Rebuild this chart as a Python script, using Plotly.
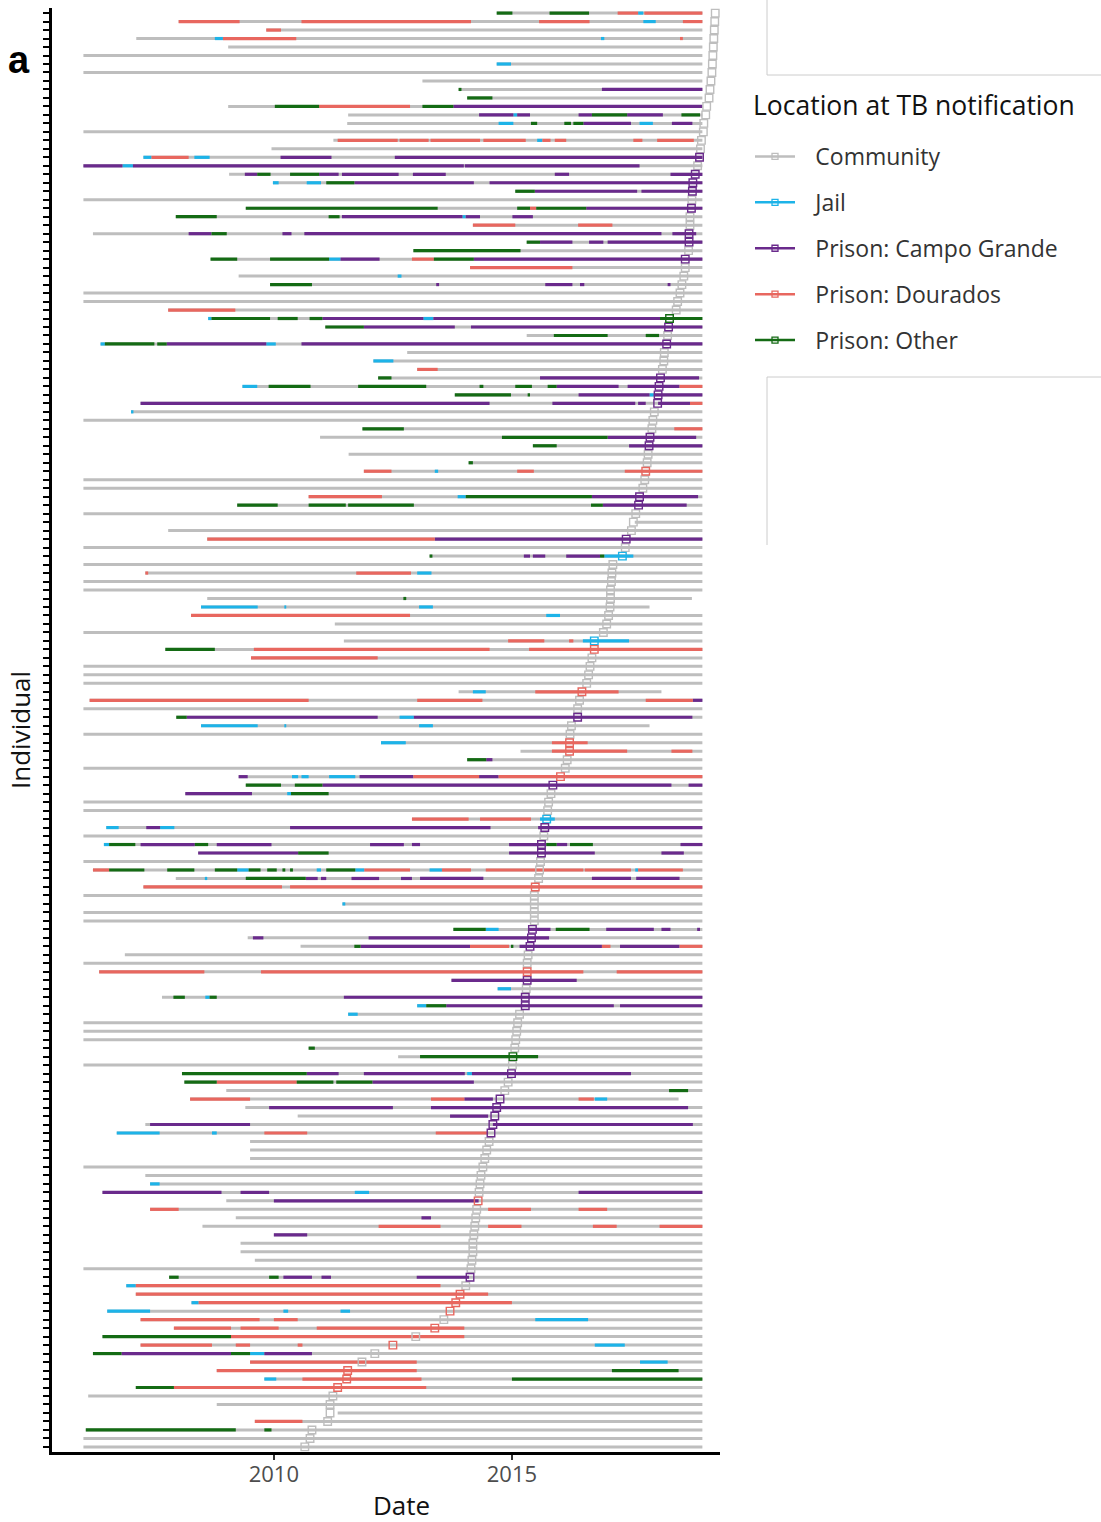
import plotly.graph_objects as go

# Location codes used in the stay records
LOC_NAMES = {
    "C": "Community",
    "J": "Jail",
    "P": "Prison: Campo Grande",
    "D": "Prison: Dourados",
    "O": "Prison: Other",
}
LOC_COLORS = {
    "C": "#BEBEBE",
    "J": "#1DB3E8",
    "P": "#6A2A8C",
    "D": "#E8675F",
    "O": "#146B14",
}
LEGEND_ORDER = ["C", "J", "P", "D", "O"]

# Start of follow-up for each individual (decimal year), top row first
followup_start = [
    2014.68, 2008.00, 2009.84, 2007.11, 2009.04, 2006.00, 2014.68, 2006.00, 2013.12, 2013.88,
    2014.06, 2009.04, 2011.56, 2011.54, 2006.00, 2011.25, 2009.95, 2007.26, 2006.00, 2009.06,
    2009.98, 2015.07, 2006.00, 2009.41, 2007.94, 2014.18, 2006.20, 2015.31, 2012.93, 2008.67,
    2014.12, 2009.26, 2009.92, 2006.00, 2006.00, 2007.78, 2008.62, 2011.08, 2015.31, 2006.36,
    2012.80, 2012.09, 2013.01, 2012.19, 2009.34, 2013.80, 2007.20, 2007.00, 2006.00, 2011.86,
    2010.97, 2015.44, 2011.57, 2014.09, 2011.89, 2006.00, 2006.00, 2010.73, 2009.23, 2006.00,
    2017.58, 2007.78, 2008.60, 2006.00, 2013.27, 2006.00, 2007.30, 2006.00, 2006.00, 2008.60,
    2008.47, 2008.26, 2011.28, 2006.00, 2011.47, 2007.72, 2009.52, 2006.00, 2006.00, 2006.00,
    2013.88, 2006.13, 2006.00, 2007.95, 2008.47, 2006.00, 2012.25, 2015.18, 2014.06, 2006.00,
    2009.26, 2009.41, 2008.14, 2006.00, 2006.00, 2012.90, 2006.48, 2006.00, 2006.43, 2008.41,
    2006.00, 2006.20, 2007.94, 2007.26, 2006.00, 2011.44, 2006.00, 2006.00, 2013.77, 2009.45,
    2010.56, 2006.87, 2006.00, 2006.33, 2013.73, 2014.70, 2007.65, 2013.01, 2011.56, 2006.00,
    2006.00, 2006.00, 2010.73, 2012.61, 2006.00, 2008.07, 2008.12, 2009.00, 2008.24, 2009.40,
    2010.50, 2007.30, 2006.70, 2009.50, 2009.50, 2009.50, 2006.00, 2007.30, 2007.40, 2006.40,
    2009.00, 2007.40, 2009.20, 2008.50, 2010.00, 2009.30, 2009.30, 2009.60, 2006.00, 2007.80,
    2006.90, 2007.10, 2008.27, 2006.50, 2007.20, 2007.90, 2006.40, 2007.20, 2006.20, 2009.50,
    2008.80, 2009.80, 2007.10, 2006.10, 2008.80, 2011.34, 2009.60, 2006.05, 2006.00, 2006.00,
]

# Individuals whose follow-up ends before the end of 2018 (row -> decimal year)
followup_end_early = {70: 2018.78, 71: 2017.89, 81: 2018.14, 85: 2017.89, 129: 2018.50}
STUDY_END = 2019.0

# TB notification date and location at notification, top row first
notif_date = [
    2019.27, 2019.26, 2019.25, 2019.24, 2019.23, 2019.22, 2019.21, 2019.20, 2019.18, 2019.16,
    2019.14, 2019.09, 2019.07, 2019.03, 2019.02, 2018.98, 2018.96, 2018.94, 2018.90, 2018.85,
    2018.80, 2018.79, 2018.78, 2018.77, 2018.74, 2018.74, 2018.72, 2018.72, 2018.71, 2018.64,
    2018.64, 2018.61, 2018.57, 2018.53, 2018.48, 2018.45, 2018.31, 2018.29, 2018.27, 2018.25,
    2018.20, 2018.19, 2018.16, 2018.12, 2018.09, 2018.07, 2018.06, 2017.99, 2017.96, 2017.94,
    2017.90, 2017.88, 2017.86, 2017.84, 2017.81, 2017.79, 2017.75, 2017.68, 2017.66, 2017.60,
    2017.55, 2017.51, 2017.40, 2017.38, 2017.32, 2017.12, 2017.10, 2017.09, 2017.07, 2017.07,
    2017.06, 2017.03, 2016.99, 2016.92, 2016.73, 2016.73, 2016.68, 2016.64, 2016.61, 2016.57,
    2016.47, 2016.42, 2016.38, 2016.38, 2016.25, 2016.22, 2016.21, 2016.21, 2016.16, 2016.12,
    2016.02, 2015.86, 2015.82, 2015.77, 2015.75, 2015.73, 2015.69, 2015.67, 2015.62, 2015.62,
    2015.60, 2015.58, 2015.56, 2015.49, 2015.47, 2015.47, 2015.47, 2015.47, 2015.43, 2015.41,
    2015.38, 2015.34, 2015.32, 2015.32, 2015.32, 2015.30, 2015.28, 2015.28, 2015.16, 2015.12,
    2015.10, 2015.08, 2015.06, 2015.02, 2015.01, 2014.99, 2014.92, 2014.85, 2014.75, 2014.68,
    2014.64, 2014.60, 2014.56, 2014.52, 2014.47, 2014.43, 2014.39, 2014.35, 2014.33, 2014.31,
    2014.29, 2014.26, 2014.24, 2014.22, 2014.20, 2014.18, 2014.18, 2014.16, 2014.14, 2014.12,
    2014.03, 2013.91, 2013.82, 2013.70, 2013.57, 2013.38, 2012.98, 2012.50, 2012.12, 2011.85,
    2011.55, 2011.53, 2011.34, 2011.24, 2011.18, 2011.18, 2011.13, 2010.80, 2010.76, 2010.65,
]
notif_loc = list(
    "CCCCCCCCCCCCCCCCCPCP"
    "PPCPCCPPCPCCCCCCOPCP"
    "CCCPPPPCCCPPCCDCCPPC"
    "CCPCJCCCCCCCCCJDCCCC"
    "DCCPCCDDCCDPCCCJPCPP"
    "CCCDCCCCPPPCCDPCPPCC"
    "CCCOCPCCPPPPPCCCCCCC"
    "DCCCCCCCCPCDDDCDCDCC"
    "DDDCCCCCCC"
)

# Stays outside the community: (row, location code, start, end)
stays = [
    (1, "O", 2014.68, 2015.01), (1, "O", 2015.79, 2016.62), (1, "D", 2017.22, 2017.65),
    (1, "J", 2017.65, 2017.76), (1, "D", 2017.78, 2019.00),
    (2, "D", 2008.00, 2009.28), (2, "D", 2010.58, 2014.14), (2, "D", 2015.57, 2016.63),
    (2, "J", 2017.76, 2018.02), (2, "D", 2018.59, 2019.00),
    (3, "D", 2009.84, 2010.15),
    (4, "J", 2008.76, 2008.93), (4, "D", 2008.93, 2010.47), (4, "J", 2016.87, 2016.94),
    (4, "D", 2018.53, 2018.59),
    (7, "J", 2014.68, 2014.98),
    (10, "O", 2013.88, 2013.94), (10, "P", 2016.89, 2019.00),
    (11, "O", 2014.06, 2014.59),
    (12, "O", 2010.02, 2010.95), (12, "D", 2010.95, 2012.86), (12, "O", 2013.12, 2013.77),
    (12, "P", 2013.77, 2019.00),
    (13, "P", 2014.31, 2015.03), (13, "J", 2015.03, 2015.11), (13, "P", 2015.11, 2015.38),
    (13, "P", 2016.40, 2016.68), (13, "O", 2016.68, 2017.42), (13, "P", 2017.42, 2018.17),
    (13, "O", 2018.56, 2018.95),
    (14, "J", 2014.72, 2015.03), (14, "O", 2015.40, 2015.53), (14, "O", 2016.10, 2016.24),
    (14, "O", 2016.29, 2016.50), (14, "P", 2016.50, 2017.50), (14, "J", 2017.68, 2017.96),
    (14, "P", 2018.36, 2018.79),
    (16, "D", 2011.34, 2012.60), (16, "D", 2012.64, 2013.25), (16, "D", 2013.29, 2014.33),
    (16, "D", 2014.40, 2015.29), (16, "J", 2015.53, 2015.64), (16, "D", 2015.64, 2015.81),
    (16, "D", 2015.90, 2016.14), (16, "D", 2017.55, 2017.74), (16, "D", 2018.05, 2018.82),
    (18, "J", 2007.26, 2007.43), (18, "D", 2007.43, 2008.21), (18, "J", 2008.33, 2008.65),
    (18, "P", 2010.14, 2011.21), (18, "P", 2012.54, 2019.00),
    (19, "P", 2006.00, 2006.82), (19, "J", 2006.82, 2007.04), (19, "P", 2007.04, 2013.99),
    (19, "P", 2014.01, 2017.68),
    (20, "P", 2009.39, 2009.65), (20, "O", 2009.65, 2009.93), (20, "O", 2010.34, 2010.95),
    (20, "P", 2010.95, 2011.36), (20, "P", 2011.43, 2012.62), (20, "P", 2012.92, 2013.61),
    (20, "P", 2015.90, 2016.20), (20, "P", 2018.33, 2019.00),
    (21, "J", 2009.98, 2010.10), (21, "J", 2010.69, 2010.99), (21, "O", 2011.10, 2011.69),
    (21, "P", 2011.69, 2014.20), (21, "P", 2014.53, 2019.00),
    (22, "O", 2015.07, 2015.48), (22, "P", 2015.48, 2017.63), (22, "P", 2017.72, 2019.00),
    (24, "O", 2009.41, 2013.44), (24, "O", 2015.11, 2015.38), (24, "D", 2015.38, 2015.51),
    (24, "O", 2015.51, 2016.56), (24, "P", 2016.56, 2019.00),
    (25, "O", 2007.94, 2008.80), (25, "O", 2011.15, 2011.38), (25, "P", 2011.43, 2013.96),
    (25, "J", 2013.96, 2014.03), (25, "P", 2014.03, 2014.33), (25, "P", 2015.01, 2015.44),
    (26, "D", 2014.18, 2015.07), (26, "D", 2016.39, 2017.11),
    (27, "P", 2008.21, 2008.69), (27, "O", 2008.69, 2009.01), (27, "P", 2010.18, 2010.37),
    (27, "P", 2010.64, 2018.14), (27, "P", 2018.37, 2018.87),
    (28, "O", 2015.31, 2015.59), (28, "P", 2015.59, 2016.27), (28, "P", 2016.62, 2016.92),
    (28, "P", 2017.01, 2019.00),
    (29, "O", 2012.93, 2015.18),
    (30, "O", 2008.67, 2009.23), (30, "O", 2009.92, 2011.16), (30, "J", 2011.16, 2011.40),
    (30, "P", 2011.40, 2012.22), (30, "D", 2012.90, 2013.36), (30, "O", 2013.36, 2014.20),
    (30, "P", 2014.20, 2019.00),
    (31, "D", 2014.12, 2016.27),
    (32, "J", 2012.60, 2012.68),
    (33, "O", 2009.92, 2010.80), (33, "P", 2013.41, 2013.47), (33, "P", 2015.70, 2016.27),
    (33, "P", 2016.43, 2016.52), (33, "P", 2018.27, 2018.33),
    (36, "D", 2007.78, 2009.19),
    (37, "J", 2008.62, 2008.69), (37, "O", 2008.69, 2009.92), (37, "O", 2010.08, 2010.50),
    (37, "O", 2010.75, 2011.02), (37, "P", 2011.02, 2013.14), (37, "J", 2013.14, 2013.35),
    (37, "P", 2013.35, 2018.11), (37, "O", 2018.11, 2019.00),
    (38, "O", 2011.08, 2011.89), (38, "P", 2011.89, 2013.80), (38, "P", 2014.14, 2019.00),
    (39, "O", 2015.88, 2017.01), (39, "O", 2017.81, 2018.09),
    (40, "J", 2006.36, 2006.45), (40, "O", 2006.45, 2007.49), (40, "O", 2007.55, 2007.75),
    (40, "P", 2007.75, 2009.84), (40, "J", 2009.84, 2010.04), (40, "P", 2010.58, 2019.00),
    (42, "J", 2012.09, 2012.51),
    (43, "D", 2013.01, 2013.44),
    (44, "O", 2012.19, 2012.47), (44, "P", 2015.59, 2018.93),
    (45, "J", 2009.34, 2009.65), (45, "O", 2009.89, 2010.77), (45, "O", 2011.77, 2013.20),
    (45, "O", 2014.32, 2014.40), (45, "O", 2015.07, 2015.42), (45, "O", 2015.75, 2015.94),
    (45, "P", 2015.94, 2017.24), (45, "P", 2017.43, 2018.52), (45, "D", 2018.52, 2019.00),
    (46, "O", 2013.80, 2014.98), (46, "O", 2015.33, 2015.38), (46, "P", 2016.40, 2017.89),
    (46, "J", 2017.89, 2017.98), (46, "P", 2017.98, 2019.00),
    (47, "P", 2007.20, 2014.53), (47, "P", 2015.85, 2017.59), (47, "P", 2017.65, 2017.81),
    (47, "P", 2018.07, 2018.74), (47, "D", 2018.74, 2019.00),
    (48, "J", 2007.00, 2007.05),
    (50, "O", 2011.86, 2012.73), (50, "D", 2018.41, 2019.00),
    (51, "O", 2014.79, 2017.01), (51, "P", 2017.01, 2018.87),
    (52, "O", 2015.44, 2015.94), (52, "P", 2017.46, 2019.00),
    (54, "O", 2014.09, 2014.18),
    (55, "D", 2011.89, 2012.47), (55, "J", 2013.38, 2013.45), (55, "D", 2015.11, 2015.46),
    (55, "D", 2017.37, 2019.00),
    (58, "D", 2010.73, 2012.27), (58, "J", 2013.86, 2014.03), (58, "O", 2014.03, 2016.68),
    (58, "P", 2016.68, 2018.91),
    (59, "O", 2009.23, 2010.08), (59, "O", 2010.73, 2011.51), (59, "O", 2011.56, 2012.94),
    (59, "O", 2016.66, 2016.91), (59, "P", 2016.91, 2018.67),
    (63, "D", 2008.60, 2013.38), (63, "P", 2013.38, 2019.00),
    (65, "O", 2013.27, 2013.33), (65, "P", 2015.25, 2015.38), (65, "P", 2015.44, 2015.70),
    (65, "P", 2016.14, 2016.85), (65, "O", 2016.85, 2016.94), (65, "J", 2016.94, 2017.55),
    (67, "D", 2007.30, 2007.36), (67, "D", 2011.73, 2012.88), (67, "J", 2013.01, 2013.31),
    (70, "O", 2012.72, 2012.78),
    (71, "J", 2008.47, 2009.66), (71, "J", 2010.22, 2010.26), (71, "J", 2013.05, 2013.34),
    (72, "D", 2008.26, 2012.86), (72, "J", 2015.72, 2016.01),
    (75, "D", 2014.92, 2015.68), (75, "D", 2016.20, 2016.29), (75, "J", 2016.49, 2017.46),
    (76, "O", 2007.72, 2008.76), (76, "D", 2009.58, 2014.53), (76, "D", 2015.36, 2019.00),
    (77, "D", 2009.52, 2012.18),
    (81, "J", 2014.18, 2014.45), (81, "D", 2015.49, 2017.24),
    (82, "D", 2006.13, 2010.73), (82, "D", 2013.01, 2014.38), (82, "D", 2017.81, 2018.80),
    (82, "P", 2018.80, 2019.00),
    (84, "O", 2007.95, 2008.17), (84, "P", 2008.17, 2012.18), (84, "J", 2012.64, 2012.94),
    (84, "P", 2012.94, 2018.79),
    (85, "J", 2008.47, 2009.66), (85, "J", 2010.22, 2010.26), (85, "J", 2013.05, 2013.34),
    (87, "J", 2012.25, 2012.77), (87, "D", 2015.84, 2016.59),
    (88, "D", 2015.84, 2017.42), (88, "D", 2018.35, 2018.79),
    (89, "O", 2014.06, 2014.46), (89, "P", 2014.46, 2014.59),
    (91, "P", 2009.26, 2009.45), (91, "J", 2010.38, 2010.51), (91, "J", 2010.58, 2010.73),
    (91, "J", 2011.16, 2011.71), (91, "P", 2011.80, 2012.93), (91, "D", 2012.93, 2014.31),
    (91, "P", 2014.31, 2014.72), (91, "D", 2014.72, 2019.00),
    (92, "O", 2009.41, 2010.15), (92, "O", 2010.44, 2011.02), (92, "P", 2011.02, 2018.35),
    (92, "P", 2018.71, 2019.00),
    (93, "P", 2008.14, 2009.54), (93, "J", 2010.28, 2010.36), (93, "O", 2010.36, 2011.15),
    (96, "D", 2012.90, 2014.09), (96, "D", 2014.33, 2015.40), (96, "J", 2015.59, 2015.90),
    (97, "J", 2006.48, 2006.74), (97, "P", 2007.32, 2007.61), (97, "J", 2007.61, 2007.91),
    (97, "P", 2010.34, 2014.55), (97, "P", 2015.55, 2019.00),
    (99, "J", 2006.43, 2006.54), (99, "O", 2006.54, 2007.09), (99, "P", 2007.20, 2008.34),
    (99, "O", 2008.34, 2008.62), (99, "P", 2008.80, 2009.95), (99, "P", 2012.02, 2012.73),
    (99, "P", 2012.90, 2013.07), (99, "P", 2014.94, 2015.72), (99, "O", 2015.72, 2015.94),
    (99, "P", 2015.94, 2016.16), (99, "O", 2016.22, 2016.70), (99, "P", 2018.54, 2019.00),
    (100, "P", 2008.41, 2010.51), (100, "O", 2010.51, 2011.15), (100, "P", 2014.94, 2016.74),
    (100, "P", 2018.14, 2018.61),
    (102, "D", 2006.20, 2006.54), (102, "O", 2006.54, 2007.28), (102, "O", 2007.76, 2008.33),
    (102, "O", 2008.76, 2009.23), (102, "J", 2009.23, 2009.47), (102, "O", 2009.47, 2009.72),
    (102, "O", 2009.86, 2010.06), (102, "O", 2010.18, 2010.24), (102, "O", 2010.34, 2010.40),
    (102, "J", 2010.90, 2010.99), (102, "O", 2011.10, 2011.71), (102, "J", 2011.71, 2011.90),
    (102, "D", 2011.90, 2012.86), (102, "J", 2013.27, 2013.53), (102, "D", 2013.53, 2014.14),
    (102, "D", 2014.45, 2016.50), (102, "D", 2016.53, 2017.50), (102, "J", 2017.59, 2017.65),
    (102, "D", 2017.65, 2018.59),
    (103, "J", 2008.55, 2008.60), (103, "O", 2009.41, 2010.67), (103, "P", 2010.67, 2010.92),
    (103, "P", 2010.99, 2011.10), (103, "P", 2011.63, 2012.21), (103, "P", 2012.67, 2012.90),
    (103, "P", 2013.07, 2014.40), (103, "P", 2016.68, 2017.50), (103, "P", 2017.61, 2018.52),
    (104, "D", 2007.26, 2010.17), (104, "D", 2010.34, 2019.00),
    (106, "J", 2011.44, 2011.50),
    (109, "O", 2013.77, 2014.45), (109, "J", 2014.45, 2014.72), (109, "P", 2015.36, 2015.81),
    (109, "O", 2015.92, 2016.63), (109, "P", 2016.98, 2017.98), (109, "P", 2018.14, 2018.33),
    (109, "P", 2018.89, 2018.95),
    (110, "P", 2009.56, 2009.78), (110, "P", 2011.99, 2015.78),
    (111, "O", 2011.69, 2011.82), (111, "P", 2011.82, 2014.12), (111, "D", 2014.12, 2014.94),
    (111, "O", 2014.98, 2015.03), (111, "P", 2015.16, 2016.89), (111, "D", 2016.89, 2017.07),
    (111, "P", 2017.27, 2018.52), (111, "D", 2018.52, 2019.00),
    (114, "D", 2006.33, 2008.54), (114, "D", 2009.73, 2016.50), (114, "D", 2017.20, 2019.00),
    (115, "P", 2013.73, 2016.36),
    (116, "J", 2014.70, 2014.98),
    (117, "O", 2007.89, 2008.13), (117, "J", 2008.56, 2008.65), (117, "O", 2008.65, 2008.80),
    (117, "P", 2011.47, 2019.00),
    (118, "J", 2013.01, 2013.20), (118, "O", 2013.20, 2013.62), (118, "P", 2013.62, 2017.14),
    (118, "P", 2017.27, 2019.00),
    (119, "J", 2011.56, 2011.76),
    (123, "O", 2010.73, 2010.86),
    (124, "O", 2013.07, 2015.55),
    (126, "O", 2008.07, 2010.69), (126, "P", 2010.69, 2011.36), (126, "P", 2011.89, 2014.01),
    (126, "J", 2014.06, 2014.16), (126, "P", 2014.16, 2017.50),
    (127, "O", 2008.12, 2008.80), (127, "D", 2008.80, 2010.48), (127, "O", 2010.48, 2011.25),
    (127, "O", 2011.31, 2012.07), (127, "P", 2012.07, 2014.20),
    (128, "O", 2018.30, 2018.70),
    (129, "D", 2008.24, 2009.50), (129, "D", 2013.30, 2014.00), (129, "P", 2014.00, 2014.60),
    (129, "D", 2016.40, 2016.72), (129, "J", 2016.74, 2017.00),
    (130, "P", 2009.90, 2012.50), (130, "P", 2013.30, 2018.70),
    (131, "P", 2013.70, 2014.50),
    (132, "P", 2007.40, 2009.50), (132, "P", 2014.60, 2018.80),
    (133, "J", 2006.70, 2007.60), (133, "J", 2008.70, 2008.80), (133, "D", 2009.80, 2010.70),
    (133, "D", 2013.40, 2014.50),
    (139, "J", 2007.40, 2007.60),
    (140, "P", 2006.40, 2008.90), (140, "P", 2009.30, 2009.90), (140, "J", 2011.70, 2012.00),
    (140, "P", 2016.40, 2019.00),
    (141, "P", 2010.00, 2014.30),
    (142, "D", 2007.40, 2008.00), (142, "D", 2014.50, 2015.40), (142, "D", 2016.40, 2017.00),
    (143, "P", 2013.10, 2013.30),
    (144, "D", 2012.20, 2013.50), (144, "D", 2014.50, 2015.20), (144, "D", 2016.70, 2017.20),
    (144, "D", 2018.10, 2019.00),
    (145, "P", 2010.00, 2010.70),
    (150, "O", 2007.80, 2008.00), (150, "O", 2009.90, 2010.10), (150, "P", 2010.20, 2010.80),
    (150, "P", 2011.00, 2011.20), (150, "P", 2013.00, 2014.10),
    (151, "J", 2006.90, 2007.10), (151, "D", 2007.10, 2013.50),
    (152, "D", 2007.10, 2014.50),
    (153, "J", 2008.27, 2008.42), (153, "D", 2008.42, 2015.00),
    (154, "J", 2006.50, 2007.40), (154, "J", 2010.20, 2010.30), (154, "J", 2011.40, 2011.60),
    (155, "D", 2007.20, 2009.70), (155, "D", 2010.00, 2010.50), (155, "J", 2015.49, 2016.60),
    (156, "D", 2007.90, 2009.10), (156, "D", 2009.30, 2010.10), (156, "D", 2010.90, 2014.00),
    (157, "O", 2006.40, 2009.10), (157, "D", 2009.10, 2014.00),
    (158, "D", 2007.20, 2008.70), (158, "D", 2009.20, 2009.50), (158, "D", 2010.50, 2010.60),
    (158, "J", 2016.74, 2017.37),
    (159, "O", 2006.20, 2006.80), (159, "P", 2006.80, 2009.10), (159, "O", 2009.10, 2009.50),
    (159, "J", 2009.50, 2009.80), (159, "P", 2009.80, 2010.80),
    (160, "D", 2009.50, 2013.00), (160, "J", 2017.69, 2018.27),
    (161, "D", 2008.80, 2013.00), (161, "O", 2017.10, 2018.50),
    (162, "J", 2009.80, 2010.05), (162, "D", 2010.60, 2013.10), (162, "O", 2015.00, 2019.00),
    (163, "O", 2007.10, 2007.90), (163, "D", 2007.90, 2013.20),
    (167, "D", 2009.60, 2010.60),
    (168, "O", 2006.05, 2009.20), (168, "O", 2009.80, 2009.95),
]

N_ROWS = len(followup_start)

fig = go.Figure()

# Grey follow-up line for every individual
gx, gy = [], []
for i, s in enumerate(followup_start):
    row = i + 1
    gx += [s, followup_end_early.get(row, STUDY_END), None]
    gy += [row, row, None]
fig.add_trace(go.Scatter(
    x=gx, y=gy, mode="lines", line=dict(color=LOC_COLORS["C"], width=3),
    hoverinfo="skip", showlegend=False,
))

# Coloured stays, one trace per location
for code in ["J", "P", "D", "O"]:
    xs, ys = [], []
    for row, loc, a, b in stays:
        if loc == code:
            xs += [a, b, None]
            ys += [row, row, None]
    fig.add_trace(go.Scatter(
        x=xs, y=ys, mode="lines", line=dict(color=LOC_COLORS[code], width=3.2),
        name=LOC_NAMES[code], hoverinfo="skip", showlegend=False,
    ))

# Notification markers
for code in LEGEND_ORDER:
    xs = [d for d, l in zip(notif_date, notif_loc) if l == code]
    ys = [i + 1 for i, l in enumerate(notif_loc) if l == code]
    fig.add_trace(go.Scatter(
        x=xs, y=ys, mode="markers",
        marker=dict(symbol="square-open", size=7.5, color=LOC_COLORS[code], line=dict(width=1.4)),
        name=LOC_NAMES[code], showlegend=False,
    ))

# Legend entries (line with square marker)
for code in LEGEND_ORDER:
    fig.add_trace(go.Scatter(
        x=[None], y=[None], mode="lines+markers",
        line=dict(color=LOC_COLORS[code], width=2.5),
        marker=dict(symbol="square-open", size=6, color=LOC_COLORS[code], line=dict(width=1.3)),
        name="\u2002\u2009" + LOC_NAMES[code], legendgroup=code, showlegend=True,
    ))

W, H = 1101, 1522
ML, MR, MT, MB = 52, 381, 8, 70
PW, PH = W - ML - MR, H - MT - MB


def px_x(px):
    return (px - ML) / PW


def px_y(py):
    return (H - MB - py) / PH


FONT = "Open Sans, Liberation Sans, sans-serif"
frame_color = "#CCCCCC"
shapes = [
    dict(type="line", xref="paper", yref="paper", x0=px_x(767), x1=px_x(767), y0=px_y(-2), y1=px_y(75),
         line=dict(color=frame_color, width=1)),
    dict(type="line", xref="paper", yref="paper", x0=px_x(767), x1=px_x(1103), y0=px_y(75), y1=px_y(75),
         line=dict(color=frame_color, width=1)),
    dict(type="line", xref="paper", yref="paper", x0=px_x(767), x1=px_x(1103), y0=px_y(377), y1=px_y(377),
         line=dict(color=frame_color, width=1)),
    dict(type="line", xref="paper", yref="paper", x0=px_x(767), x1=px_x(767), y0=px_y(377), y1=px_y(545),
         line=dict(color=frame_color, width=1)),
]

annotations = [
    dict(text="<b>a</b>", xref="paper", yref="paper", x=px_x(19), y=px_y(60),
         xanchor="center", yanchor="middle", showarrow=False,
         font=dict(size=38, family="Liberation Sans, Arial, sans-serif", color="black")),
    dict(text="Location at TB notification", xref="paper", yref="paper", x=px_x(751), y=px_y(105),
         xanchor="left", yanchor="middle", showarrow=False,
         font=dict(size=26.5, family=FONT, color="#111111")),
    dict(text="Date", xref="paper", yref="paper", x=px_x(401), y=px_y(1505),
         xanchor="center", yanchor="middle", showarrow=False,
         font=dict(size=26, family=FONT, color="#111111")),
    dict(text="Individual", xref="paper", yref="paper", x=px_x(20), y=px_y(730),
         xanchor="center", yanchor="middle", showarrow=False, textangle=-90,
         font=dict(size=26, family=FONT, color="#111111")),
]

fig.update_layout(
    width=W, height=H,
    margin=dict(l=ML, r=MR, t=MT, b=MB),
    paper_bgcolor="white", plot_bgcolor="white",
    font=dict(family=FONT, color="#222222"),
    shapes=shapes,
    annotations=annotations,
    showlegend=True,
    legend=dict(
        x=px_x(750), xanchor="left", y=px_y(135), yanchor="top",
        font=dict(size=23, color="#333333", family=FONT),
        tracegroupgap=13, itemwidth=40, bgcolor="rgba(0,0,0,0)",
    ),
)

fig.update_xaxes(
    range=[2005.34, 2019.37],
    tickvals=[2010, 2015], ticktext=["2010", "2015"],
    ticks="outside", ticklen=5, tickwidth=1.5, tickcolor="#333333",
    tickfont=dict(size=22, color="#4D4D4D", family=FONT),
    ticklabelstandoff=-4,
    showline=True, linecolor="black", linewidth=2.5,
    showgrid=False, zeroline=False,
)
fig.update_yaxes(
    range=[N_ROWS + 0.6, 0.4],
    tickvals=list(range(1, N_ROWS + 1)), showticklabels=False,
    ticks="outside", ticklen=6, tickwidth=2, tickcolor="black",
    showline=True, linecolor="black", linewidth=2.5,
    showgrid=False, zeroline=False,
)

fig.write_html("out.html")
